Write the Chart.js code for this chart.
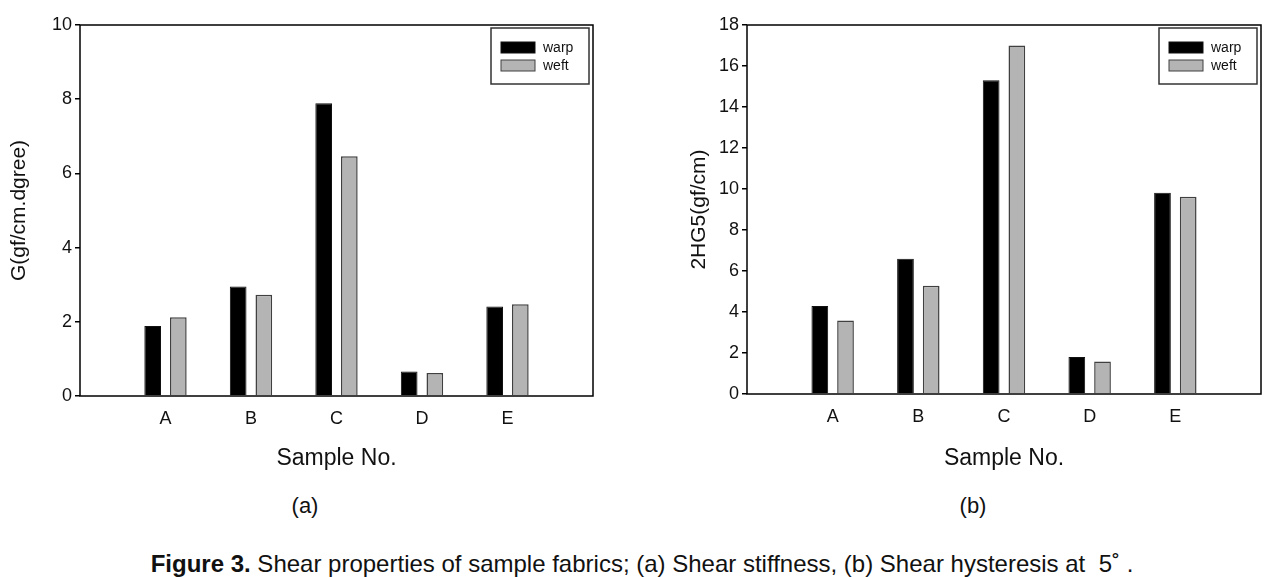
<!DOCTYPE html>
<html lang="en">
<head>
<meta charset="UTF-8">
<title>Shear properties of sample fabrics</title>
<script src="https://cdn.jsdelivr.net/npm/chart.js"></script>
<style>
    body { margin: 0; width: 1284px; height: 577px; background: #fff; position: relative; overflow: hidden;
           font-family: "Liberation Sans", Arial, sans-serif; color: #111; }
    .wrap { position: absolute; top: 0; height: 480px; }
    #wrapA { left: 0; width: 640px; }
    #wrapB { left: 640px; width: 644px; }
    .sub { position: absolute; top: 493px; font-size: 22px; transform: translateX(-50%); }
    #caption { position: absolute; top: 550px; left: 0; width: 1284px; text-align: center; font-size: 24px; }
</style>
</head>
<body>
<div class="wrap" id="wrapA"><canvas id="chartA"></canvas></div>
<div class="wrap" id="wrapB"><canvas id="chartB"></canvas></div>
<div class="sub" style="left:305px">(a)</div>
<div class="sub" style="left:973px">(b)</div>
<div id="caption"><b>Figure 3.</b> Shear properties of sample fabrics; (a) Shear stiffness, (b) Shear hysteresis at&nbsp; 5˚ .</div>

<script>
// values
const samples = ['A', 'B', 'C', 'D', 'E'];
const stiffWarp = [1.89, 2.95, 7.89, 0.66, 2.41];
const stiffWeft = [2.12, 2.73, 6.46, 0.62, 2.47];
const hystWarp = [4.29, 6.60, 15.3, 1.80, 9.82];
const hystWeft = [3.58, 5.28, 17.0, 1.59, 9.62];
const seriesNames = ['warp', 'weft'];

// empty slots either side so the groups sit at 1..5 of a 0..6 axis
const padLabels = ['', ...samples, ''];
const pad = arr => [null, ...arr, null];

const fontFamily = '"Liberation Sans", Arial, sans-serif';

// box round the plot area plus the boxed legend in its top-right corner
const frameLegend = {
    id: 'frameLegend',
    afterDraw(chart) {
        const ctx = chart.ctx;
        const a = chart.chartArea;
        ctx.save();
        ctx.strokeStyle = '#000';
        ctx.lineWidth = 1.5;
        ctx.strokeRect(a.left, a.top, a.right - a.left, a.bottom - a.top);

        const w = 98, h = 56;
        const x0 = a.right - 4 - w, y0 = a.top + 3;
        ctx.strokeStyle = '#333';
        ctx.lineWidth = 1.5;
        ctx.strokeRect(x0, y0, w, h);
        ctx.font = '14px ' + fontFamily;
        ctx.textBaseline = 'middle';
        chart.data.datasets.forEach((ds, i) => {
            const sy = y0 + 14 + i * 18;
            ctx.fillStyle = ds.backgroundColor;
            ctx.fillRect(x0 + 10, sy, 34, 11);
            ctx.strokeStyle = ds.borderColor;
            ctx.lineWidth = 1;
            ctx.strokeRect(x0 + 10, sy, 34, 11);
            ctx.fillStyle = '#111';
            ctx.fillText(ds.label, x0 + 52, sy + 6);
        });
        ctx.restore();
    }
};

function makeChart(id, warp, weft, yMax, yTitle, axisW, axisH, padRight, titlePad) {
    return new Chart(document.getElementById(id), {
        type: 'bar',
        data: {
            labels: padLabels,
            datasets: [
                { label: seriesNames[0], data: pad(warp), backgroundColor: '#000', borderColor: '#111', borderWidth: 1 },
                { label: seriesNames[1], data: pad(weft), backgroundColor: '#b4b4b4', borderColor: '#404040', borderWidth: 1.5 }
            ]
        },
        options: {
            responsive: true,
            maintainAspectRatio: false,
            animation: false,
            layout: { padding: { left: 0, right: padRight, top: 25, bottom: 0 } },
            datasets: { bar: { categoryPercentage: 0.6, barPercentage: 0.65 } },
            plugins: { legend: { display: false }, tooltip: { enabled: false } },
            scales: {
                x: {
                    offset: false,
                    afterFit: s => { s.height = axisH; },
                    grid: { display: false, drawTicks: false },
                    border: { display: false },
                    ticks: { color: '#111', font: { family: fontFamily, size: 18 }, padding: 12, autoSkip: false, maxRotation: 0 },
                    title: { display: true, text: 'Sample No.', color: '#111',
                             font: { family: fontFamily, size: 23 }, padding: { top: 0, bottom: 8 } }
                },
                y: {
                    min: 0,
                    max: yMax,
                    afterFit: s => { s.width = axisW; },
                    grid: { drawOnChartArea: false, drawTicks: true, tickLength: 5, color: '#000', lineWidth: 1.5 },
                    border: { display: false },
                    ticks: { stepSize: 2, color: '#111', font: { family: fontFamily, size: 18 }, padding: 3 },
                    title: { display: true, text: yTitle, color: '#111',
                             font: { family: fontFamily, size: 21 }, padding: { top: titlePad, bottom: 0 } }
                }
            }
        },
        plugins: [frameLegend]
    });
}

makeChart('chartA', stiffWarp, stiffWeft, 10, 'G(gf/cm.dgree)', 80, 84, 47, 7);
makeChart('chartB', hystWarp, hystWeft, 18, '2HG5(gf/cm)', 107, 86, 23, 47);
</script>
</body>
</html>
